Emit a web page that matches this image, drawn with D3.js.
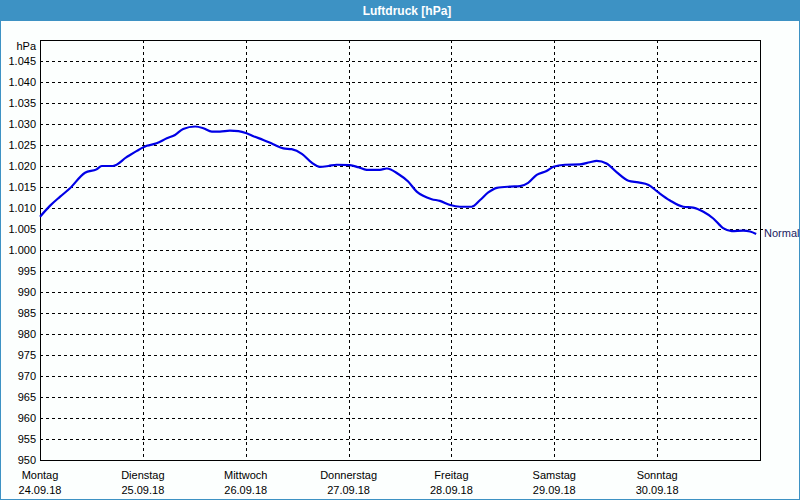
<!DOCTYPE html>
<html><head><meta charset="utf-8">
<script src="https://cdn.jsdelivr.net/npm/d3@7/dist/d3.min.js"></script>
<style>
html,body{margin:0;padding:0;background:#fff;}
svg{display:block;}
text{font-family:"Liberation Sans",Arial,sans-serif;}
</style></head>
<body>
<script>
const title = "Luftdruck [hPa]";
const unitLabel = "hPa";
const normalLabel = "Normal";
const normalValue = 1005;
const dayNames = ["Montag","Dienstag","Mittwoch","Donnerstag","Freitag","Samstag","Sonntag"];
const dayDates = ["24.09.18","25.09.18","26.09.18","27.09.18","28.09.18","29.09.18","30.09.18"];
const yTicks = [950,955,960,965,970,975,980,985,990,995,1000,1005,1010,1015,1020,1025,1030,1035,1040,1045];
// hours since Monday 00:00
const hours = [0,2.3,4.7,7,10.5,13.2,14.4,17,20.2,22.6,24.9,27.2,29.6,31.5,33.4,36.2,38.1,40.1,42,44.3,46.3,48.2,49.8,52.1,54.4,56.8,58.7,61.1,63.4,65.3,67.3,69.2,72.3,74.3,76.2,79.3,80.9,83.6,85.9,87.9,89.4,91.4,93.3,95.7,98,100.7,102.7,104.6,106.6,109.7,112,113.9,115.9,118.2,119.8,122.5,126,128.3,129.9,132.2,134.6,137.3,139.6,142,144.3,147,150.1,152.4,154.8,157.1,159.4,161.4,164.1,165.7,167.1];
const pressure = [1007.9,1010.5,1012.7,1014.7,1018.4,1019.2,1020,1020,1022.1,1023.6,1024.8,1025.4,1026.6,1027.4,1028.8,1029.4,1029.0,1028.2,1028.2,1028.4,1028.3,1027.8,1027.1,1026.2,1025.2,1024.2,1024.0,1022.9,1020.8,1019.8,1020,1020.3,1020.2,1019.7,1019.1,1019.1,1019.4,1018.1,1016.3,1013.9,1012.9,1012.1,1011.7,1010.7,1010.3,1010.3,1011.9,1013.7,1014.8,1015.1,1015.2,1016.0,1017.9,1018.8,1019.8,1020.3,1020.4,1020.9,1021.2,1020.6,1018.5,1016.5,1016.1,1015.5,1013.7,1011.8,1010.3,1010.1,1009.1,1007.5,1005.2,1004.5,1004.6,1004.4,1003.8];

const W = 800, H = 500;
const frameColor = "#3d92c4";
const m = {left:40, right:40, top:40, bottom:40};
const svg = d3.select("body").append("svg").attr("width",W).attr("height",H);

svg.append("rect").attr("x",0.5).attr("y",0.5).attr("width",W-1).attr("height",H-1)
  .attr("fill","#fcfffe").attr("stroke",frameColor);
svg.append("rect").attr("x",0).attr("y",0).attr("width",W).attr("height",21).attr("fill",frameColor);
svg.append("text").attr("x",407).attr("y",14.5).attr("text-anchor","middle")
  .attr("fill","#fff").attr("font-weight","bold").attr("font-size","12px").text(title);

const x = d3.scaleLinear().domain([0,168]).range([m.left, W-m.right]);
const y = d3.scaleLinear().domain([950,1050]).range([H-m.bottom, m.top]);
const de = d3.formatLocale({decimal:",",thousands:".",grouping:[3],currency:["","€"]});
const fmt = de.format(",");

const g = svg.append("g");
// horizontal grid
g.selectAll("line.h").data(yTicks.filter(v=>v>950)).enter().append("line")
  .attr("x1",x(0)).attr("x2",x(168))
  .attr("y1",d=>Math.round(y(d))+0.5).attr("y2",d=>Math.round(y(d))+0.5)
  .attr("stroke","#000").attr("stroke-dasharray","3,3").attr("shape-rendering","crispEdges");
// vertical grid
const dayIdx = d3.range(1,7);
g.selectAll("line.v").data(dayIdx).enter().append("line")
  .attr("x1",d=>Math.round(x(d*24))+0.5).attr("x2",d=>Math.round(x(d*24))+0.5)
  .attr("y1",y(1050)).attr("y2",y(950))
  .attr("stroke","#000").attr("stroke-dasharray","3,3").attr("shape-rendering","crispEdges");
// box
g.append("rect").attr("x",x(0)+0.5).attr("y",y(1050)+0.5)
  .attr("width",x(168)-x(0)).attr("height",y(950)-y(1050))
  .attr("fill","none").attr("stroke","#000").attr("shape-rendering","crispEdges");

// y labels
g.selectAll("text.y").data(yTicks).enter().append("text")
  .attr("x",36).attr("y",d=>y(d)+4).attr("text-anchor","end")
  .attr("font-size","11px").attr("fill","#000").text(d=>fmt(d));
g.append("text").attr("x",36).attr("y",50).attr("text-anchor","end")
  .attr("font-size","11px").text(unitLabel);

// x labels
g.selectAll("text.d").data(dayNames).enter().append("text")
  .attr("x",(d,i)=>x(i*24)).attr("y",479).attr("text-anchor","middle")
  .attr("font-size","11px").text(d=>d);
g.selectAll("text.dt").data(dayDates).enter().append("text")
  .attr("x",(d,i)=>x(i*24)).attr("y",494).attr("text-anchor","middle")
  .attr("font-size","11px").text(d=>d);

// normal marker
g.append("line").attr("x1",x(168)).attr("x2",x(168)+3)
  .attr("y1",Math.round(y(normalValue))+0.5).attr("y2",Math.round(y(normalValue))+0.5)
  .attr("stroke","#000").attr("shape-rendering","crispEdges");
g.append("text").attr("x",x(168)+4).attr("y",y(normalValue)+8)
  .attr("font-size","11px").attr("fill","#1a1a5e").text(normalLabel);

// line
const data = hours.map((h,i)=>({h, p:pressure[i]}));
g.append("path").datum(data)
  .attr("d", d3.line().x(d=>x(d.h)).y(d=>y(d.p)).curve(d3.curveMonotoneX))
  .attr("fill","none").attr("stroke","#0000e6").attr("stroke-width",2.2)
  .attr("stroke-linejoin","round");
</script>
</body></html>
